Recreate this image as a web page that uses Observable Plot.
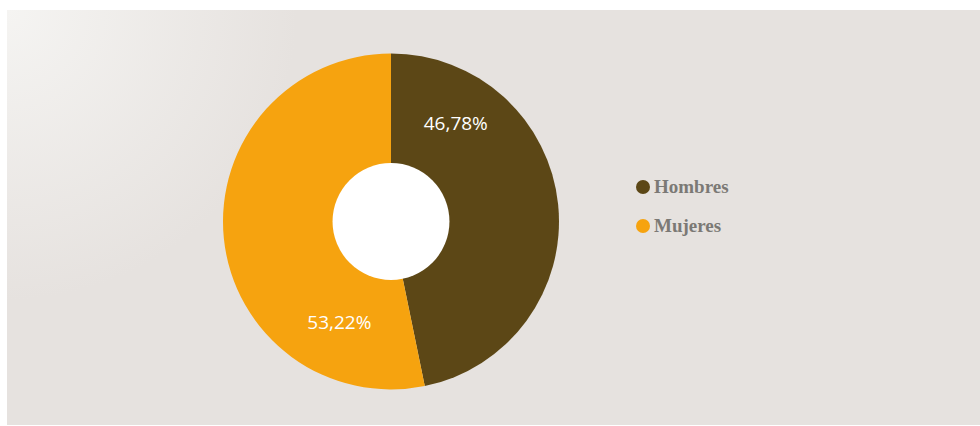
<!DOCTYPE html>
<html>
<head>
<meta charset="utf-8">
<script src="https://cdn.jsdelivr.net/npm/d3@7"></script>
<script src="https://cdn.jsdelivr.net/npm/@observablehq/plot@0.6"></script>
<style>
  html, body { margin: 0; padding: 0; background: #ffffff; }
  #wrap { position: relative; width: 980px; height: 426px; overflow: hidden; }
  #panel { position: absolute; left: 7px; top: 10px; width: 973px; height: 415px;
    background: radial-gradient(circle at 0 0, #f5f4f2 0px, #e6e2df 290px, #e6e2df 100%); }
  #chart { position: absolute; left: 0; top: 0; }
  #legend { position: absolute; left: 636px; top: 177px; font-family: "Liberation Serif", serif; font-weight: bold; font-size: 19px; color: #7b7975; }
  .item { display: flex; align-items: center; height: 20px; margin-bottom: 19px; }
  .sw { width: 14px; height: 14px; border-radius: 50%; margin-right: 4px; }
</style>
</head>
<body>
<div id="wrap"><div id="panel"></div><div id="chart"></div><div id="legend"></div></div>
<script>
const categories = ["Hombres", "Mujeres"];
const values = [46.78, 53.22];
const valueLabels = ["46,78%", "53,22%"];
const colors = ["#5c4716", "#f6a30f"];

const data = categories.map((c, i) => ({category: c, value: values[i], label: valueLabels[i]}));
const arcs = d3.pie().sort(null).value(d => d.value)(data);
const labelR = 0.69;
const labelData = arcs.map(a => {
  const ang = a.startAngle + 0.2 * (a.endAngle - a.startAngle);
  return {label: a.data.label, x: labelR * Math.sin(ang), y: labelR * Math.cos(ang)};
});

const donut = (index, scales, values, dimensions, context) => {
  const cx = scales.x(0), cy = scales.y(0);
  const R = scales.x(1) - scales.x(0);
  const g = d3.create("svg:g").attr("transform", `translate(${cx},${cy})`);
  const arcGen = d3.arc().innerRadius(0).outerRadius(R);
  g.selectAll("path").data(arcs).join("path")
    .attr("d", arcGen)
    .attr("fill", d => colors[categories.indexOf(d.data.category)]);
  g.append("circle").attr("r", R * 0.348).attr("fill", "#ffffff");
  return g.node();
};

const plot = Plot.plot({
  width: 980,
  height: 426,
  margin: 0,
  style: {background: "transparent", overflow: "visible"},
  x: {domain: [-1, 1], range: [223, 559], axis: null},
  y: {domain: [-1, 1], range: [389, 54], axis: null},
  marks: [
    donut,
    Plot.text(labelData, {x: "x", y: "y", text: "label", fill: "#ffffff", fontSize: 19, dy: -2, fontFamily: "Open Sans, sans-serif"})
  ]
});
document.getElementById("chart").appendChild(plot);

const legend = document.getElementById("legend");
categories.forEach((c, i) => {
  const item = document.createElement("div");
  item.className = "item";
  const sw = document.createElement("span");
  sw.className = "sw";
  sw.style.background = colors[i];
  const t = document.createElement("span");
  t.textContent = c;
  item.appendChild(sw);
  item.appendChild(t);
  legend.appendChild(item);
});
</script>
</body>
</html>
